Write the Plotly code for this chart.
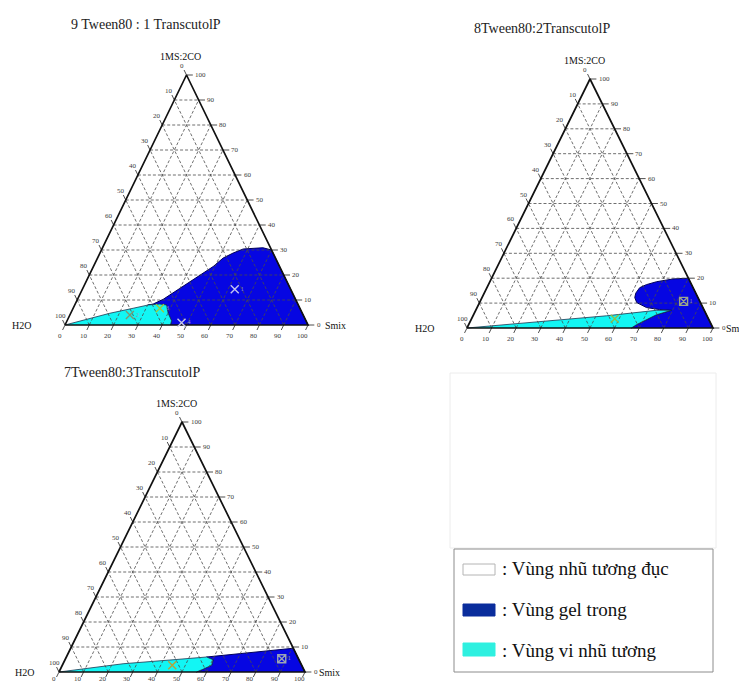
import plotly.graph_objects as go

FIG_W, FIG_H = 739, 684
SERIF = "Liberation Serif"

# ---------------------------------------------------------------- data
titles = ["9 Tween80 : 1 TranscutolP", "8Tween80:2TranscutolP", "7Tween80:3TranscutolP"]
vertex_top, vertex_left, vertex_right = "1MS:2CO", "H2O", "Smix"
tick_values = [0, 10, 20, 30, 40, 50, 60, 70, 80, 90, 100]

# Region boundaries as compositions in % (Smix, 1MS:2CO); H2O = 100 - Smix - MS
gel1_smix = [100, 70.0, 66.0, 62.7, 58.1, 54.8, 51.7, 49.3, 46.5, 43.7, 40.9, 38.2, 35.3, 32.1, 30.2, 37.8, 40.1, 43.0, 43.4]
gel1_ms = [0, 30.0, 30.9, 30.8, 30.4, 28.8, 26.8, 23.4, 20.7, 18.1, 15.4, 12.7, 10.3, 8.4, 8.0, 8.0, 4.7, 1.7, 0]
micro1_smix = [0, 7.8, 16.1, 24.7, 30.2, 34.8, 37.8, 40.1, 43.0, 43.4]
micro1_ms = [0, 2.3, 4.7, 6.7, 8.0, 8.4, 8.0, 4.7, 1.7, 0]

gel2_smix = [100, 80.0, 73.9, 67.8, 64.2, 62.1, 61.6, 62.1, 63.9, 68.9, 74.6, 79.5, 74.3, 71.2, 68.2, 66.8]
gel2_ms = [0, 20.0, 19.7, 18.6, 17.4, 16.2, 14.0, 12.2, 10.2, 8.2, 7.4, 7.1, 5.3, 3.3, 1.3, 0]
micro2_smix = [0, 28.2, 54.2, 73.4, 79.5, 74.3, 71.2, 68.2, 66.8]
micro2_ms = [0, 2.7, 4.9, 7.1, 7.1, 5.3, 3.3, 1.3, 0]

gel3_smix = [100, 90.5, 57.0, 60.2, 60.7, 58.0, 55.9]
gel3_ms = [0, 9.5, 6.0, 4.9, 2.7, 1.1, 0]
micro3_smix = [0, 24.4, 43.9, 57.0, 60.2, 60.7, 58.0, 55.9]
micro3_ms = [0, 3.3, 4.9, 6.0, 4.9, 2.7, 1.1, 0]

# Tested formulations
pts1_smix = [62.7, 24.7, 35.7, 47.5]
pts1_ms = [14.3, 4.0, 6.7, 0.9]
pts1_lab = ["1", "2", "3", "4"]
pts2_smix = [82.7, 58.2]
pts2_ms = [10.7, 3.7]
pts2_lab = ["1", ""]
pts3_smix = [87.9, 44.7]
pts3_ms = [5.3, 2.7]
pts3_lab = ["1", ""]

legend_labels = [": Vùng nhũ tương đục", ": Vùng gel trong", ": Vùng vi nhũ tương"]

# ---------------------------------------------------------------- styling
GEL_FILL, GEL_EDGE = "#0606E2", "#00005A"
MICRO_FILL, MICRO_EDGE = "#12F6F4", "#1B3550"
LEG_FILLS = ["#FFFFFF", "#0A2D9C", "#2EF0E0"]

# Each diagram: left-vertex pixel, triangle size in px, plotting box in px,
# and pixel offsets of the corner labels.
panels = [
    dict(gel=(gel1_smix, gel1_ms), micro=(micro1_smix, micro1_ms),
         pts=(pts1_smix, pts1_ms, pts1_lab),
         pt_sym=["x-thin", "x-thin", "x-thin", "x-thin"],
         pt_col=["#C4C4EE", "#7F9670", "#9CCB3A", "#C8C8E4"],
         vx=65, vy=325, w=243, h=250, box=(0, 30, 362, 346),
         title_xy=(146, 24), h2o_dx=-32, smix_dx=15, top_dx=-6, bottom_dy=-11),
    dict(gel=(gel2_smix, gel2_ms), micro=(micro2_smix, micro2_ms),
         pts=(pts2_smix, pts2_ms, pts2_lab),
         pt_sym=["square-x-open", "x-thin"],
         pt_col=["#9BA58C", "#8DBE4A"],
         vx=467, vy=328, w=246, h=249, box=(378, 30, 739, 346),
         title_xy=(542, 28), h2o_dx=-31, smix_dx=11, top_dx=-6, bottom_dy=-11),
    dict(gel=(gel3_smix, gel3_ms), micro=(micro3_smix, micro3_ms),
         pts=(pts3_smix, pts3_ms, pts3_lab),
         pt_sym=["square-x-open", "x-thin"],
         pt_col=["#9BA5B4", "#B7A23A"],
         vx=59, vy=672, w=246, h=250, box=(0, 380, 362, 684),
         title_xy=(132, 372), h2o_dx=-23, smix_dx=12, top_dx=-6, bottom_dy=-7),
]


def to_xy(smix, ms):
    """Project (Smix, MS) percentages onto the triangle's x/y plane."""
    return [s + m / 2 for s, m in zip(smix, ms)], list(ms)


def px_to_paper(x, y):
    return x / FIG_W, 1 - y / FIG_H


fig = go.Figure()
annotations = []
shapes = []

for i, p in enumerate(panels):
    n = "" if i == 0 else str(i + 1)
    xr, yr = "x" + n, "y" + n
    bx0, by0, bx1, by1 = p["box"]
    fig.layout["xaxis" + n] = dict(
        domain=[bx0 / FIG_W, bx1 / FIG_W],
        range=[(bx0 - p["vx"]) / p["w"] * 100, (bx1 - p["vx"]) / p["w"] * 100],
        visible=False, fixedrange=True, anchor=yr)
    fig.layout["yaxis" + n] = dict(
        domain=[1 - by1 / FIG_H, 1 - by0 / FIG_H],
        range=[(p["vy"] - by1) / p["h"] * 100, (p["vy"] - by0) / p["h"] * 100],
        visible=False, fixedrange=True, anchor=xr)

    # phase regions
    gx, gy = to_xy(*p["gel"])
    fig.add_trace(go.Scatter(x=gx, y=gy, mode="lines", fill="toself", fillcolor=GEL_FILL,
                             line=dict(color=GEL_EDGE, width=1), hoverinfo="skip",
                             showlegend=False, xaxis=xr, yaxis=yr))
    mx, my = to_xy(*p["micro"])
    fig.add_trace(go.Scatter(x=mx, y=my, mode="lines", fill="toself", fillcolor=MICRO_FILL,
                             line=dict(color=MICRO_EDGE, width=0.8), hoverinfo="skip",
                             showlegend=False, xaxis=xr, yaxis=yr))

    # dashed grid: lines of constant MS, Smix and H2O
    gxs, gys = [], []
    for v in tick_values[1:-1]:
        lines = [
            ((0, v), (100 - v, v)),              # constant MS
            ((v, 0), (v, 100 - v)),              # constant Smix
            ((100 - v, 0), (0, 100 - v)),        # constant H2O
        ]
        for (s0, m0), (s1, m1) in lines:
            xx, yy = to_xy([s0, s1], [m0, m1])
            gxs += xx + [None]
            gys += yy + [None]
    fig.add_trace(go.Scatter(x=gxs, y=gys, mode="lines",
                             line=dict(color="#4A4A4A", width=0.8, dash="3px,2px"),
                             hoverinfo="skip", showlegend=False, xaxis=xr, yaxis=yr))

    # tick marks
    txs, tys = [], []
    for v in tick_values:
        # bottom edge (Smix)
        txs += [v, v - 1.0, None]
        tys += [0, -2.0, None]
        # right edge (MS)
        xe = 100 - v / 2
        txs += [xe, xe + 2.6, None]
        tys += [v, v, None]
        # left edge (H2O)
        xl, yl = (100 - v) / 2, 100 - v
        txs += [xl, xl - 1.0, None]
        tys += [yl, yl + 2.0, None]
    fig.add_trace(go.Scatter(x=txs, y=tys, mode="lines", line=dict(color="#222222", width=0.8),
                             hoverinfo="skip", showlegend=False, xaxis=xr, yaxis=yr))

    # triangle outline
    ox, oy = to_xy([0, 100, 0, 0], [0, 0, 100, 0])
    fig.add_trace(go.Scatter(x=ox, y=oy, mode="lines", line=dict(color="#111111", width=1.7),
                             hoverinfo="skip", showlegend=False, xaxis=xr, yaxis=yr))

    # formulation markers
    ps, pm, pl = p["pts"]
    px_, py_ = to_xy(ps, pm)
    fig.add_trace(go.Scatter(x=px_, y=py_, mode="markers+text", text=pl,
                             textposition="middle right",
                             textfont=dict(family=SERIF, size=6, color="#9A9AB0"),
                             marker=dict(symbol=p["pt_sym"], size=8, color=p["pt_col"],
                                         line=dict(color=p["pt_col"], width=1.4)),
                             hoverinfo="skip", showlegend=False, xaxis=xr, yaxis=yr))

    # tick labels
    tf = dict(family=SERIF, size=7, color="#3A3A3A")
    for v in tick_values:
        lab = str(v)
        annotations.append(dict(x=v, y=0, xref=xr, yref=yr, text=lab, showarrow=False,
                                font=tf, xanchor="center", yanchor="middle",
                                xshift=-5.5, yshift=p["bottom_dy"]))
        annotations.append(dict(x=100 - v / 2, y=v, xref=xr, yref=yr, text=lab, showarrow=False,
                                font=tf, xanchor="left", yanchor="middle", xshift=6.5))
        annotations.append(dict(x=(100 - v) / 2, y=100 - v, xref=xr, yref=yr, text=lab,
                                showarrow=False, font=tf, xanchor="center", yanchor="middle",
                                xshift=-5, yshift=9))

    # corner labels
    vf = dict(family=SERIF, size=10, color="#111111")
    annotations.append(dict(x=50, y=100, xref=xr, yref=yr, text=vertex_top, showarrow=False,
                            font=vf, xanchor="center", yanchor="middle",
                            xshift=p["top_dx"], yshift=19))
    annotations.append(dict(x=0, y=0, xref=xr, yref=yr, text=vertex_left, showarrow=False,
                            font=vf, xanchor="right", yanchor="middle", xshift=p["h2o_dx"]))
    annotations.append(dict(x=100, y=0, xref=xr, yref=yr, text=vertex_right, showarrow=False,
                            font=vf, xanchor="left", yanchor="middle", xshift=p["smix_dx"]))

    # diagram title
    tx, ty = px_to_paper(*p["title_xy"])
    annotations.append(dict(x=tx, y=ty, xref="paper", yref="paper", text=titles[i],
                            showarrow=False, xanchor="center", yanchor="middle",
                            font=dict(family=SERIF, size=14, color="#222222")))


# empty panel and legend box
def rect_px(x0, y0, x1, y1, **kw):
    a0, b1 = px_to_paper(x0, y0)
    a1, b0 = px_to_paper(x1, y1)
    d = dict(type="rect", xref="paper", yref="paper", x0=a0, x1=a1, y0=b0, y1=b1)
    d.update(kw)
    return d


shapes.append(rect_px(450, 373, 716, 548, line=dict(color="#ECECEC", width=1)))
shapes.append(rect_px(454, 549, 713, 672, line=dict(color="#8C8C8C", width=1), fillcolor="white"))
sw_y = [(564, 575), (604, 616), (643, 656)]
text_y = [568, 609, 650]
for k, lab in enumerate(legend_labels):
    y0, y1 = sw_y[k]
    shapes.append(rect_px(463, y0, 495, y1, fillcolor=LEG_FILLS[k],
                          line=dict(color="#B4B4B4" if k == 0 else LEG_FILLS[k], width=1)))
    ax_, ay_ = px_to_paper(500, text_y[k])
    annotations.append(dict(x=ax_, y=ay_, xref="paper", yref="paper", text=lab, showarrow=False,
                            xanchor="left", yanchor="middle",
                            font=dict(family=SERIF, size=19, color="#111111")))

fig.update_layout(width=FIG_W, height=FIG_H, margin=dict(l=0, r=0, t=0, b=0),
                  paper_bgcolor="white", plot_bgcolor="rgba(0,0,0,0)",
                  annotations=annotations, shapes=shapes, showlegend=False)

fig.write_html("out.html")
